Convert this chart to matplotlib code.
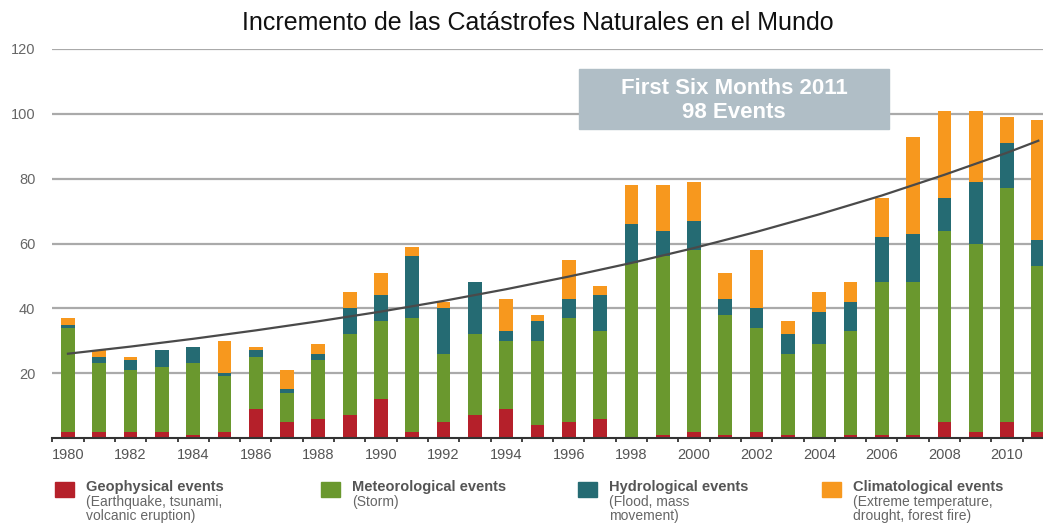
import numpy as np
import matplotlib.pyplot as plt
from matplotlib.patches import Rectangle

plt.rcParams['font.family'] = ['Liberation Sans', 'DejaVu Sans']

#%% data
years = np.arange(1980, 2012)
geo = [2, 2, 2, 2, 1, 2, 9, 5, 6, 7, 12, 2, 5, 7, 9, 4,
       5, 6, 0, 1, 2, 1, 2, 1, 0, 1, 1, 1, 5, 2, 5, 2]
met = [32, 21, 19, 20, 22, 17, 16, 9, 18, 25, 24, 35, 21, 25, 21, 26,
       32, 27, 54, 55, 56, 37, 32, 25, 29, 32, 47, 47, 59, 58, 72, 51]
hyd = [1, 2, 3, 5, 5, 1, 2, 1, 2, 8, 8, 19, 14, 16, 3, 6,
       6, 11, 12, 8, 9, 5, 6, 6, 10, 9, 14, 15, 10, 19, 14, 8]
clim = [2, 2, 1, 0, 0, 10, 1, 6, 3, 5, 7, 3, 2, 0, 10, 2,
        12, 3, 12, 14, 12, 8, 18, 4, 6, 6, 12, 30, 27, 22, 8, 37]

trend_years = [1980, 1982, 1984, 1986, 1988, 1990, 1992, 1994, 1996,
               1998, 2000, 2002, 2004, 2006, 2008, 2010, 2011]
trend_vals = [26.0, 28.2, 30.6, 33.2, 36.0, 39.0, 42.3, 45.9, 49.8,
              54.0, 58.6, 63.6, 69.0, 74.8, 81.2, 88.0, 91.7]

yticks = [20, 40, 60, 80, 100, 120]
xlabels = list(range(1980, 2011, 2))

c_geo, c_met, c_hyd, c_clim = '#b5202a', '#6a982e', '#256b73', '#f7981e'

#%%
fig = plt.figure(figsize=(10.43, 5.24), dpi=100)
W, H = 1043, 524
ax = fig.add_axes([52/W, 1-438/H, (W-52)/W, (438-49)/H])

b1 = np.array(geo)
b2 = b1 + np.array(met)
b3 = b2 + np.array(hyd)
w = 0.44
ax.bar(years, geo, w, color=c_geo, zorder=2)
ax.bar(years, met, w, bottom=b1, color=c_met, zorder=2)
ax.bar(years, hyd, w, bottom=b2, color=c_hyd, zorder=2)
ax.bar(years, clim, w, bottom=b3, color=c_clim, zorder=2)
ax.plot(trend_years, trend_vals, color='#4a4a4a', lw=1.6, zorder=3)

ax.set_xlim(1979.49, 2011.15)
ax.set_ylim(0, 120)
for s in ['top', 'right', 'left']:
    ax.spines[s].set_visible(False)
ax.spines['bottom'].set_color('#333333')
ax.spines['bottom'].set_linewidth(1.5)
ax.spines['bottom'].set_zorder(4)

ax.set_yticks(yticks)
ax.set_yticklabels([str(v) for v in yticks])
ax.tick_params(axis='y', length=0, pad=12, labelsize=10.5, labelcolor='#666666')
ax.yaxis.grid(True, color='#aaaaaa', lw=1.6)
ax.set_axisbelow(True)

ax.set_xticks(xlabels)
ax.set_xticklabels([str(v) for v in xlabels])
ax.set_xticks(np.arange(1979.5, 2011.5, 1.0), minor=True)
ax.tick_params(axis='x', which='major', length=0, pad=7, labelsize=10.5, labelcolor='#555555')
ax.tick_params(axis='x', which='minor', length=3, width=1.3, color='#333333')

fig.text(538/W, 1-23/H, 'Incremento de las Catástrofes Naturales en el Mundo',
         ha='center', va='center', fontsize=18, color='#111111')

# annotation box
fig.patches.append(Rectangle((579/W, 1-129/H), (889-579)/W, (129-69)/H,
                             transform=fig.transFigure, color='#b0bec6', zorder=5))
fig.text(734/W, 1-88/H, 'First Six Months 2011', ha='center', va='center',
         fontsize=16, fontweight='bold', color='white', zorder=6)
fig.text(734/W, 1-113/H, '98 Events', ha='center', va='center',
         fontsize=16, fontweight='bold', color='white', zorder=6)

# legend
leg = [(55, c_geo, 'Geophysical events', '(Earthquake, tsunami,\nvolcanic eruption)'),
       (321, c_met, 'Meteorological events', '(Storm)'),
       (578, c_hyd, 'Hydrological events', '(Flood, mass\nmovement)'),
       (822, c_clim, 'Climatological events', '(Extreme temperature,\ndrought, forest fire)')]
for x0, col, title, desc in leg:
    fig.patches.append(Rectangle((x0/W, 1-497/H), 19/W, 15/H,
                                 transform=fig.transFigure, color=col))
    fig.text((x0+31)/W, 1-487/H, title, ha='left', va='center',
             fontsize=10.5, fontweight='bold', color='#555555')
    fig.text((x0+31)/W, 1-495/H, desc, ha='left', va='top',
             fontsize=10, color='#666666', linespacing=1.0)

fig.savefig('out.png', dpi=100)
